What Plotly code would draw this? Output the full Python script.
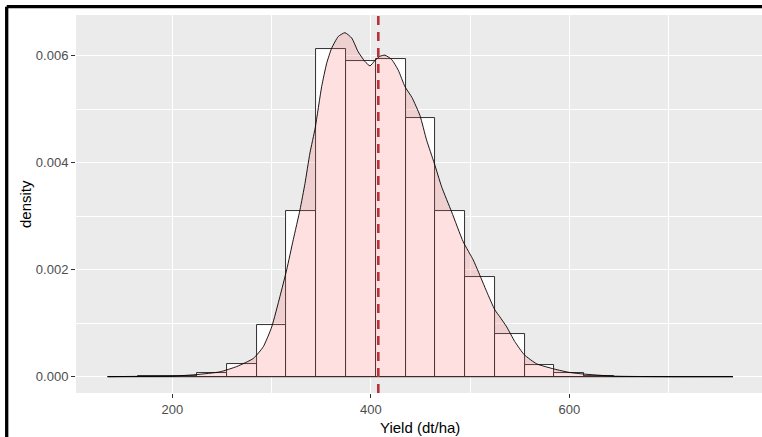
import plotly.graph_objects as go

# ---- data ----
binwidth = 30
bin_starts = [135, 165, 195, 225, 255, 285, 315, 345, 375, 405, 435, 465,
              495, 525, 555, 585, 615, 645, 675, 705, 735]
bin_density = [0.0, 0.000005, 0.00001, 0.00006, 0.00023, 0.00096, 0.0031,
               0.00612, 0.00591, 0.00594, 0.00484, 0.0031, 0.00187, 0.00079,
               0.00021, 0.000075, 0.00001, 0.0, 0.0, 0.0, 0.0]

dens_x = [135, 160, 200, 225, 248, 265, 281.6, 291.7, 300.2, 308.5, 315.3,
          321.9, 328.7, 333.7, 338.7, 344, 350.5, 355.6, 360.6, 367.3, 374,
          380.8, 387.4, 394.2, 399.2, 404.2, 409.3, 414.3, 421, 427.7, 434.5,
          441.5, 449.6, 456.3, 464, 471.4, 481.5, 493.2, 503.3, 508, 516.8,
          525, 530, 537, 545, 554.7, 567.2, 584.6, 600, 614, 645, 700, 765]
dens_y = [0.0, 0.000005, 0.00001, 0.00004, 0.00009, 0.00019, 0.00034,
          0.00056, 0.00093, 0.0015, 0.002, 0.00256, 0.00312, 0.00361, 0.00418,
          0.00465, 0.00542, 0.00586, 0.00614, 0.00636, 0.00643, 0.00633,
          0.00607, 0.00589, 0.00581, 0.00591, 0.00599, 0.00601, 0.00593,
          0.00573, 0.00542, 0.00522, 0.00488, 0.00442, 0.00399, 0.00355,
          0.00308, 0.00252, 0.00218, 0.00198, 0.00159, 0.00125, 0.00112,
          0.00093, 0.00066, 0.00041, 0.00024, 0.000144, 0.00008, 0.00005,
          0.00001, 0.0, 0.0]

mean_yield = 407.6

x_label = "Yield (dt/ha)"
y_label = "density"

# ---- figure ----
W, H = 762, 437
ML, MR, MT, MB = 76, 0, 15, 44
PW, PH = W - ML - MR, H - MT - MB

centers = [s + binwidth / 2 for s in bin_starts]
line_col = "#1a1a1a"

fig = go.Figure()
fig.add_trace(go.Bar(
    x=centers, y=bin_density, width=binwidth,
    marker=dict(color="white", line=dict(color=line_col, width=0.9)),
    hoverinfo="skip", showlegend=False))
# baseline of the zero-height bins (outline at density 0 across binned range)
fig.add_trace(go.Scatter(
    x=[bin_starts[0], bin_starts[-1] + binwidth], y=[0, 0], mode="lines",
    line=dict(color=line_col, width=0.9), hoverinfo="skip", showlegend=False))
fig.add_trace(go.Scatter(
    x=dens_x, y=dens_y, mode="lines", fill="tozeroy",
    fillcolor="rgba(255,102,102,0.2)",
    line=dict(color="black", width=0.9, shape="spline", smoothing=0.5),
    hoverinfo="skip", showlegend=False))

fig.add_shape(type="line", xref="x", yref="paper", x0=mean_yield, x1=mean_yield,
              y0=0, y1=1, line=dict(color="#B8323A", width=2.6, dash="9px,7px"))

# outer frame (top and left edges of the screenshot)
fx = (6.7 - ML) / PW
fy = (MT + PH - 6.7) / PH
fig.add_shape(type="line", xref="paper", yref="paper", x0=fx, x1=1.05,
              y0=fy, y1=fy, line=dict(color="black", width=3.3))
fig.add_shape(type="line", xref="paper", yref="paper", x0=fx, x1=fx,
              y0=-0.2, y1=fy, line=dict(color="black", width=3.3))

font_family = "Liberation Sans, Arial, sans-serif"
axis_common = dict(
    automargin=False,
    showgrid=True, gridcolor="white", gridwidth=1.1, zeroline=False,
    showline=False, ticks="outside", ticklen=4, tickwidth=1,
    tickcolor="#333333", tickfont=dict(family=font_family, size=13, color="#4D4D4D"),
)
fig.update_layout(
    width=W, height=H,
    margin=dict(l=ML, r=MR, t=MT, b=MB, autoexpand=False),
    paper_bgcolor="white", plot_bgcolor="#EBEBEB",
    font=dict(family=font_family),
    bargap=0,
    xaxis=dict(range=[103, 794.2], tick0=0, dtick=200,
               minor=dict(dtick=100, showgrid=True, gridcolor="white", gridwidth=0.6),
               **axis_common),
    yaxis=dict(range=[-0.000305, 0.006761], tick0=0, dtick=0.002, tickformat=".3f",
               minor=dict(dtick=0.001, showgrid=True, gridcolor="white", gridwidth=0.6),
               **axis_common),
)
fig.add_annotation(text=x_label, xref="paper", yref="paper",
                   x=(420 - ML) / PW, y=(MT + PH - 427.7) / PH,
                   xanchor="center", yanchor="middle", showarrow=False,
                   font=dict(size=15, color="black", family=font_family))
fig.add_annotation(text=y_label, xref="paper", yref="paper",
                   x=(25 - ML) / PW, y=0.5, textangle=-90,
                   xanchor="center", yanchor="middle", showarrow=False,
                   font=dict(size=15, color="black", family=font_family))

fig.write_html(
    "out.html",
    config={"displayModeBar": False},
    post_script="document.body.style.margin='0';document.body.style.overflow='hidden';",
)
